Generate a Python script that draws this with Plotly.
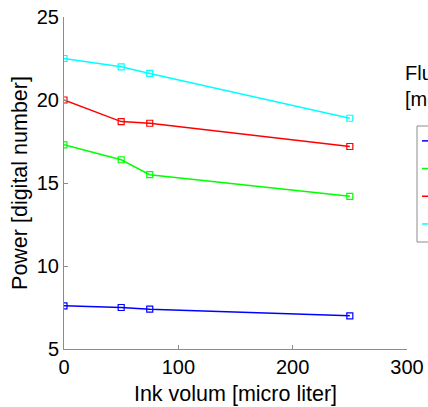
import plotly.graph_objects as go

# Ink volume (micro liter) on the x axis
ink_volume = [0, 50, 75, 250]

# Measured power per fluorescein concentration
concentrations = ["0.1", "0.2", "0.3", "0.4"]
power_blue = [7.6, 7.5, 7.4, 7.0]
power_green = [17.3, 16.4, 15.5, 14.2]
power_red = [20.0, 18.7, 18.6, 17.2]
power_cyan = [22.5, 22.0, 21.6, 18.9]

series = [power_blue, power_green, power_red, power_cyan]
colors = ["#0000FF", "#00FF00", "#FF0000", "#00FFFF"]

FONT = "Liberation Sans, Arial, Helvetica, sans-serif"
AXIS_GRAY = "#8c8c8c"

W, H = 428, 407
ML, MR, MT, MB = 64, 21, 17, 58
plot_w = W - ML - MR
plot_h = H - MT - MB


def px_x(px):
    return (px - ML) / plot_w


def px_y(py):
    return (H - MB - py) / plot_h


fig = go.Figure()
for name, values, color in zip(concentrations, series, colors):
    fig.add_trace(go.Scatter(
        x=ink_volume, y=values, name=name, mode="lines+markers",
        line=dict(color=color, width=1.5),
        marker=dict(symbol="square-open", size=6, color=color,
                    line=dict(width=1.2, color=color)),
    ))

axis_common = dict(
    showline=True, linecolor=AXIS_GRAY, linewidth=1,
    ticks="inside", ticklen=4, tickcolor=AXIS_GRAY, tickwidth=1,
    showgrid=False, zeroline=False, mirror=False,
    tickfont=dict(family=FONT, size=20, color="black"),
)

fig.update_layout(
    width=W, height=H,
    margin=dict(l=ML, r=MR, t=MT, b=MB, autoexpand=False),
    paper_bgcolor="white", plot_bgcolor="white",
    font=dict(family=FONT, color="black"),
    xaxis=dict(range=[0, 300], tickvals=[0, 100, 200, 300],
               title=dict(text="Ink volum [micro liter]",
                          font=dict(family=FONT, size=21.5), standoff=8),
               **axis_common),
    yaxis=dict(range=[5, 25], tickvals=[5, 10, 15, 20, 25],
               title=dict(text="Power [digital number]",
                          font=dict(family=FONT, size=21.5), standoff=3),
               **axis_common),
    showlegend=True,
    legend=dict(
        x=px_x(417), xanchor="left", y=px_y(122), yanchor="top",
        borderwidth=0, bgcolor="rgba(0,0,0,0)",
        font=dict(family=FONT, size=19), tracegroupgap=0,
    ),
    shapes=[
        # legend frame
        dict(type="rect", xref="paper", yref="paper",
             x0=px_x(417), x1=px_x(470), y0=px_y(242), y1=px_y(126),
             line=dict(color=AXIS_GRAY, width=1), fillcolor="white",
             layer="below"),
    ],
    annotations=[
        dict(text="Fluorescein<br>[mg/l]", x=px_x(403), y=px_y(60),
             xref="paper", yref="paper",
             showarrow=False, align="left", xanchor="left", yanchor="top",
             font=dict(family=FONT, size=20)),
    ],
)

fig.write_html("out.html")
